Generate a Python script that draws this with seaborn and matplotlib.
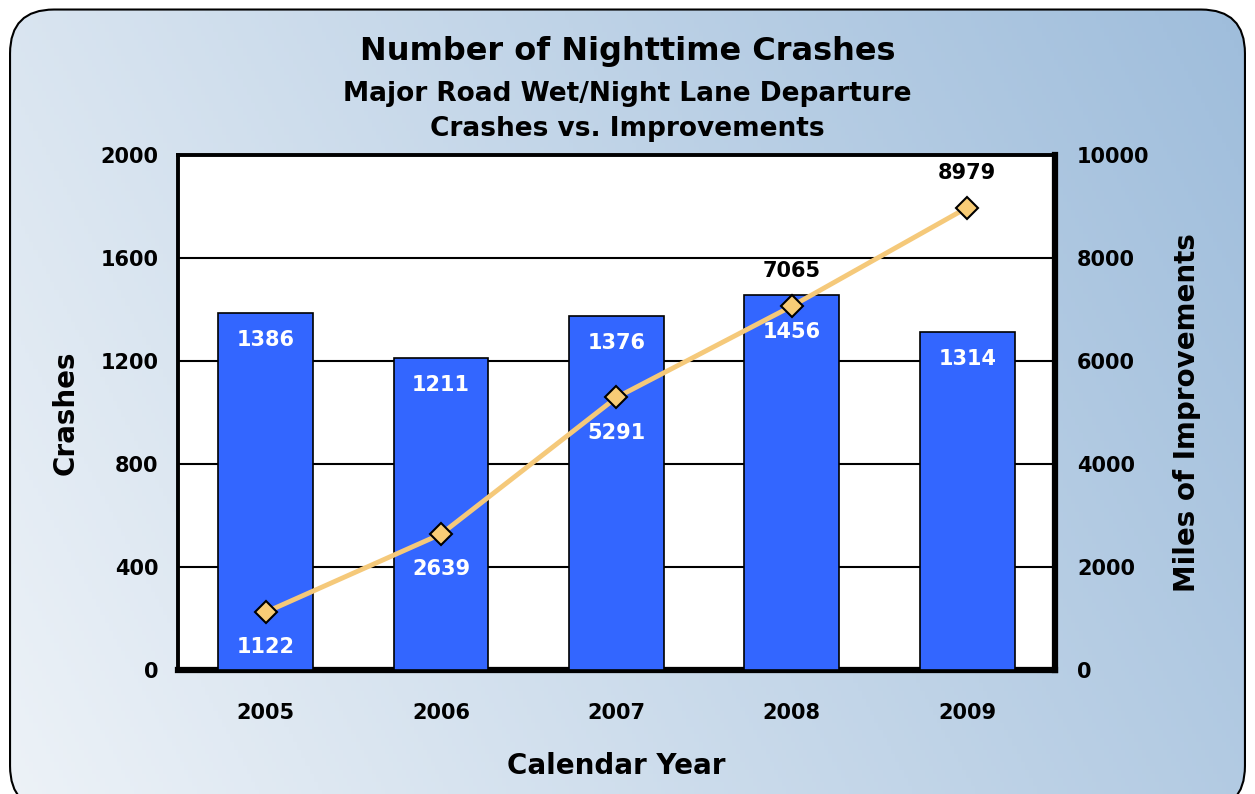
import numpy as np
import pandas as pd
import seaborn as sns
import matplotlib.pyplot as plt
from matplotlib.patches import FancyBboxPatch

years = ["2005", "2006", "2007", "2008", "2009"]
crashes = [1386, 1211, 1376, 1456, 1314]
miles = [1122, 2639, 5291, 7065, 8979]
miles_above = [False, False, False, True, True]

sns.set_style("white")
plt.rcParams['font.family'] = ['DejaVu Sans']
plt.rcParams['font.weight'] = 'bold'
plt.rcParams['text.color'] = 'black'
plt.rcParams['axes.labelcolor'] = 'black'
plt.rcParams['xtick.color'] = 'black'
plt.rcParams['ytick.color'] = 'black'

fig = plt.figure(figsize=(12.55, 7.94), dpi=100)

# gradient background inside rounded box
bg = fig.add_axes([0, 0, 1, 1], zorder=-10)
bg.set_xlim(0, 1)
bg.set_ylim(0, 1)
bg.axis("off")
gx, gy = np.meshgrid(np.linspace(0, 1, 300), np.linspace(0, 1, 200))
t = (gx * 0.75 + gy * 0.25)
c0 = np.array([0.93, 0.95, 0.97])
c1 = np.array([0.62, 0.74, 0.86])
img = c0 + (c1 - c0) * t[..., None]
im = bg.imshow(img, extent=[0, 1, 0, 1], origin="lower", aspect="auto")
box = FancyBboxPatch((0.008, -0.02), 0.984, 1.008, boxstyle="round,pad=0,rounding_size=0.035",
                     transform=bg.transAxes, facecolor="none", edgecolor="black", lw=1.5,
                     mutation_aspect=1.58)
bg.add_patch(box)
im.set_clip_path(box)

ax = fig.add_axes([0.1418, 0.1562, 0.6988, 0.6486])
df = pd.DataFrame({"year": years, "crashes": crashes, "miles": miles})
sns.barplot(data=df, x="year", y="crashes", color="#3366FF", saturation=1,
            width=0.54, edgecolor="black", linewidth=1.2, ax=ax, zorder=3)
ax.set_ylim(0, 2000)
ax.set_xlim(-0.5, 4.5)
ax.set_yticks([0, 400, 800, 1200, 1600, 2000])
ax.set_facecolor("white")
for yv in [400, 800, 1200, 1600]:
    ax.axhline(yv, color="black", lw=1.5, zorder=1)
for name, s in ax.spines.items():
    s.set_visible(True)
    s.set_color("black")
    s.set_linewidth(4.5 if name in ("right", "bottom") else 2.8)
ax.tick_params(axis="y", length=0, labelsize=15, pad=14)
ax.tick_params(axis="x", length=0, labelsize=15, pad=24)
ax.set_xlabel("Calendar Year", fontsize=20, fontweight="bold", labelpad=21)
ax.set_ylabel("Crashes", fontsize=20, fontweight="bold", labelpad=15)

# little downward nudge for the 2008 bar label so it clears the marker
bar_nudge = {3: 40}
for i, v in enumerate(crashes):
    ax.text(i, v - 105 - bar_nudge.get(i, 0), str(v), color="white", fontsize=15,
            fontweight="bold", ha="center", va="center", zorder=5)

ax2 = ax.twinx()
sns.lineplot(x=np.arange(len(years)), y=miles, ax=ax2, color="#F5C97A", lw=3.5,
             marker="D", markersize=11, markerfacecolor="#F8CC76",
             markeredgecolor="black", markeredgewidth=1.5, zorder=4)
ax2.set_ylim(0, 10000)
ax2.set_yticks([0, 2000, 4000, 6000, 8000, 10000])
ax2.tick_params(axis="y", length=0, labelsize=15, pad=16)
ax2.set_ylabel("Miles of Improvements", fontsize=20, fontweight="bold", labelpad=17)
for s in ax2.spines.values():
    s.set_visible(False)
for i, v in enumerate(miles):
    if miles_above[i]:
        ax2.text(i, v + 680, str(v), color="black", fontsize=15, fontweight="bold",
                 ha="center", va="center")
    else:
        ax2.text(i, v - 680, str(v), color="white", fontsize=15, fontweight="bold",
                 ha="center", va="center")

fig.text(0.5, 0.935, "Number of Nighttime Crashes", ha="center", va="center",
         fontsize=23, fontweight="bold")
fig.text(0.5, 0.882, "Major Road Wet/Night Lane Departure", ha="center", va="center",
         fontsize=19, fontweight="bold")
fig.text(0.5, 0.838, "Crashes vs. Improvements", ha="center", va="center",
         fontsize=19, fontweight="bold")

fig.savefig("out.png", dpi=100)
